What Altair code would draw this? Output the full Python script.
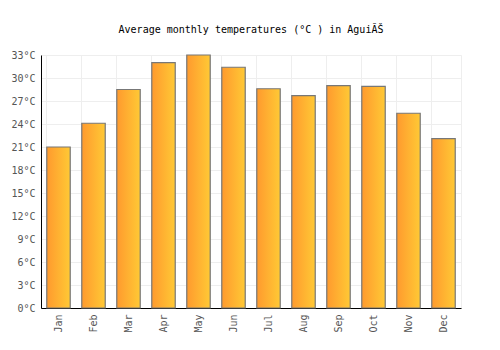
import altair as alt
import pandas as pd

months = ["Jan", "Feb", "Mar", "Apr", "May", "Jun", "Jul", "Aug", "Sep", "Oct", "Nov", "Dec"]
temps = [21.0, 24.1, 28.5, 32.0, 33.0, 31.4, 28.6, 27.7, 29.0, 28.9, 25.4, 22.1]
y_ticks = [0, 3, 6, 9, 12, 15, 18, 21, 24, 27, 30, 33]

df = pd.DataFrame({"month": months, "temp": temps})

font = "DejaVu Sans Mono"

chart = alt.Chart(df).mark_bar(
    color=alt.Gradient(
        gradient="linear",
        stops=[alt.GradientStop(color="#ff9a2e", offset=0), alt.GradientStop(color="#ffc935", offset=1)],
        x1=0, x2=1, y1=0, y2=0,
    ),
    stroke="#777777",
    strokeWidth=1.2,
).encode(
    x=alt.X("month:N", sort=months, title=None,
            scale=alt.Scale(paddingInner=0.33, paddingOuter=0.165),
            axis=alt.Axis(labelAngle=-90, ticks=False, labelPadding=6, bandPosition=0,
                          grid=True, gridColor="#eeeeee", domainColor="#000000",
                          labelColor="#555555", labelFont=font, labelFontSize=10)),
    y=alt.Y("temp:Q", title=None,
            scale=alt.Scale(domain=[0, 33], nice=False),
            axis=alt.Axis(values=y_ticks, labelExpr="datum.value + '°C'", ticks=False, labelPadding=6,
                          grid=True, gridColor="#eeeeee", domainColor="#000000",
                          labelColor="#555555", labelFont=font, labelFontSize=10)),
).properties(
    width=420,
    height=253,
    title=alt.TitleParams("Average monthly temperatures (°C ) in AguiĂŠ", font=font, fontSize=10,
                          fontWeight="normal", color="#000000", offset=15),
    autosize=alt.AutoSizeParams(type="none"),
    padding={"left": 41, "top": 55, "right": 39, "bottom": 42},
).configure_view(stroke="#eeeeee")

chart.save("out.html", embed_options={"renderer": "svg", "actions": False})
